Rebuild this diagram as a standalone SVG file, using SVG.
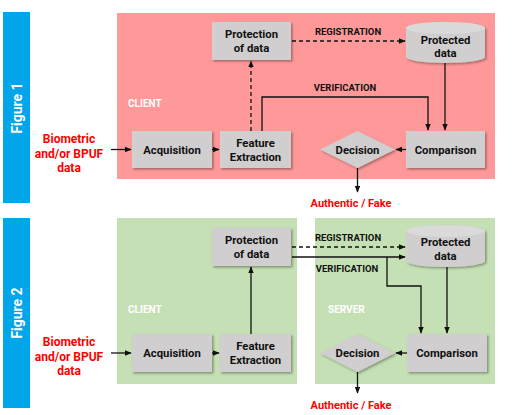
<svg xmlns="http://www.w3.org/2000/svg" width="517" height="415" viewBox="0 0 517 415">
<defs>
<filter id="sh" x="-10%" y="-10%" width="130%" height="140%">
<feDropShadow dx="1.5" dy="1.5" stdDeviation="1" flood-color="#000" flood-opacity="0.35"/>
</filter>
<marker id="ah" viewBox="0 0 10 10" refX="9" refY="5" markerWidth="7" markerHeight="7" orient="auto" markerUnits="userSpaceOnUse">
<path d="M0,1 L10,5 L0,9 Z" fill="#111"/>
</marker>
<style>
.bar{fill:#00A5EA}
.fig{font-family:Roboto,"Liberation Sans",sans-serif;font-weight:bold;font-size:14px;fill:#fff}
.box{fill:#D0CECE;filter:url(#sh)}
.t{font-family:Roboto,"Liberation Sans",sans-serif;font-weight:bold;font-size:11.3px;fill:#111;text-anchor:middle}
.lab{font-family:Roboto,"Liberation Sans",sans-serif;font-weight:bold;font-size:9.5px;fill:#111;text-anchor:middle}
.zone{font-family:Roboto,"Liberation Sans",sans-serif;font-weight:bold;font-size:10px;fill:#fff}
.red{font-family:Roboto,"Liberation Sans",sans-serif;font-weight:bold;font-size:12px;fill:#FF0000;text-anchor:middle}
.redo{font-family:Roboto,"Liberation Sans",sans-serif;font-weight:bold;font-size:11px;fill:#FF0000;text-anchor:middle}
.c{fill:none;stroke:#111;stroke-width:1.3;marker-end:url(#ah)}
.d{fill:none;stroke:#111;stroke-width:1.3;stroke-dasharray:4,3;marker-end:url(#ah)}
</style>
</defs>
<rect width="517" height="415" fill="#fff"/>

<!-- Figure 1 -->
<g id="fig1-bar">
<rect class="bar" x="3" y="12" width="27" height="191"/>
<text class="fig" transform="translate(22,108) rotate(-90)" text-anchor="middle">Figure 1</text>
</g>
<g id="fig1-client">
<rect x="117" y="13" width="378" height="166" fill="#FF9999"/>
<text class="zone" x="128" y="107">CLIENT</text>
</g>
<g id="fig1-input">
<text class="red" x="69" y="143">Biometric</text>
<text class="red" x="69" y="158">and/or BPUF</text>
<text class="red" x="69" y="172">data</text>
</g>
<g id="fig1-acq">
<rect class="box" x="132" y="131" width="80" height="37"/>
<text class="t" x="172" y="154">Acquisition</text>
</g>
<g id="fig1-feat">
<rect class="box" x="220" y="131" width="71" height="37"/>
<text class="t" x="255.5" y="147">Feature</text>
<text class="t" x="255.5" y="161">Extraction</text>
</g>
<g id="fig1-prot">
<rect class="box" x="212" y="22" width="79" height="38"/>
<text class="t" x="251.5" y="38">Protection</text>
<text class="t" x="251.5" y="52">of data</text>
</g>
<g id="fig1-db">
<path class="box" d="M406,28 A39.5,6 0 0 1 485,28 L485,57 A39.5,6 0 0 1 406,57 Z"/>
<ellipse cx="445.5" cy="28" rx="39.5" ry="6" fill="#DADADA"/>
<text class="t" x="445.5" y="44">Protected</text>
<text class="t" x="445.5" y="57">data</text>
</g>
<g id="fig1-comp">
<rect class="box" x="406" y="131" width="79" height="37"/>
<text class="t" x="445.5" y="154">Comparison</text>
</g>
<g id="fig1-dec">
<polygon class="box" points="357.5,131 395,149.5 357.5,168 320,149.5"/>
<text class="t" x="357.5" y="153.5">Decision</text>
</g>
<g id="fig1-out">
<text class="redo" x="351" y="207">Authentic / Fake</text>
</g>
<g id="fig1-connectors">
<line class="c" x1="111" y1="149.5" x2="131" y2="149.5"/>
<line class="c" x1="212" y1="149.5" x2="219" y2="149.5"/>
<line class="d" x1="251" y1="131" x2="251" y2="61"/>
<line class="d" x1="292" y1="41" x2="405" y2="41"/>
<polyline class="c" points="262,131 262,97 428,97 428,130"/>
<line class="c" x1="445" y1="63" x2="445" y2="130"/>
<line class="c" x1="406" y1="149.5" x2="396" y2="149.5"/>
<line class="c" x1="357.5" y1="168" x2="357.5" y2="192"/>
<text class="lab" x="348" y="35">REGISTRATION</text>
<text class="lab" x="345" y="91">VERIFICATION</text>
</g>

<!-- Figure 2 -->
<g id="fig2-bar">
<rect class="bar" x="3" y="218" width="27" height="190"/>
<text class="fig" transform="translate(22,313) rotate(-90)" text-anchor="middle">Figure 2</text>
</g>
<g id="fig2-client">
<rect x="117" y="218" width="180" height="166" fill="#C5E0B4"/>
<text class="zone" x="128" y="313">CLIENT</text>
</g>
<g id="fig2-server">
<rect x="315" y="218" width="180" height="166" fill="#C5E0B4"/>
<text class="zone" x="328" y="313">SERVER</text>
</g>
<g id="fig2-input">
<text class="red" x="69" y="346">Biometric</text>
<text class="red" x="69" y="361">and/or BPUF</text>
<text class="red" x="69" y="375">data</text>
</g>
<g id="fig2-acq">
<rect class="box" x="132" y="334" width="80" height="38"/>
<text class="t" x="172" y="357">Acquisition</text>
</g>
<g id="fig2-feat">
<rect class="box" x="220" y="334" width="71" height="38"/>
<text class="t" x="255.5" y="350">Feature</text>
<text class="t" x="255.5" y="364">Extraction</text>
</g>
<g id="fig2-prot">
<rect class="box" x="212" y="228" width="79" height="38"/>
<text class="t" x="251.5" y="244">Protection</text>
<text class="t" x="251.5" y="258">of data</text>
</g>
<g id="fig2-db">
<path class="box" d="M406,231 A39.5,6 0 0 1 485,231 L485,261 A39.5,6 0 0 1 406,261 Z"/>
<ellipse cx="445.5" cy="231" rx="39.5" ry="6" fill="#DADADA"/>
<text class="t" x="445.5" y="246">Protected</text>
<text class="t" x="445.5" y="260">data</text>
</g>
<g id="fig2-comp">
<rect class="box" x="407" y="334" width="80" height="38"/>
<text class="t" x="447" y="357">Comparison</text>
</g>
<g id="fig2-dec">
<polygon class="box" points="357.5,334 395,353 357.5,372 320,353"/>
<text class="t" x="357.5" y="357">Decision</text>
</g>
<g id="fig2-out">
<text class="redo" x="351" y="409">Authentic / Fake</text>
</g>
<g id="fig2-connectors">
<line class="c" x1="111" y1="353" x2="131" y2="353"/>
<line class="c" x1="212" y1="353" x2="219" y2="353"/>
<line class="c" x1="251" y1="334" x2="251" y2="267"/>
<line class="d" x1="292" y1="247" x2="405" y2="247"/>
<line class="c" x1="292" y1="257" x2="405" y2="257"/>
<polyline class="c" points="387,257 387,286 421,286 421,333"/>
<line class="c" x1="447" y1="267" x2="447" y2="333"/>
<line class="c" x1="407" y1="353" x2="396" y2="353"/>
<line class="c" x1="357.5" y1="372" x2="357.5" y2="393"/>
<text class="lab" x="348" y="241">REGISTRATION</text>
<text class="lab" x="347" y="272">VERIFICATION</text>
</g>
</svg>
